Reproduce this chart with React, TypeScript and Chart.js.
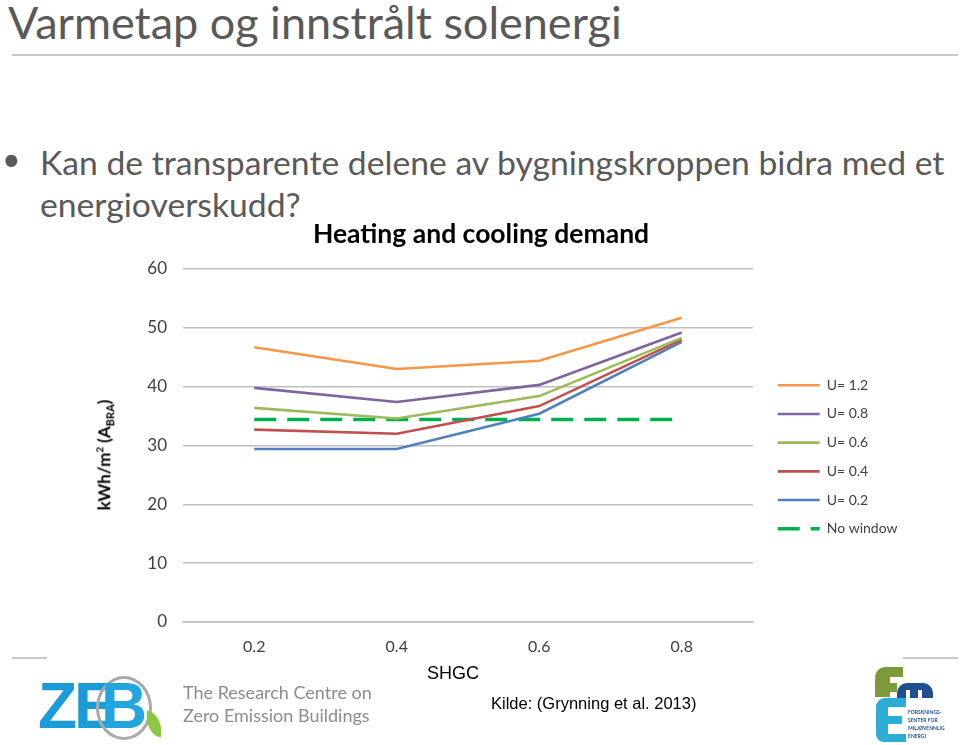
import React, { useEffect, useRef } from "react";
import { Chart, registerables } from "chart.js";

Chart.register(...registerables);

const categories = ["0.2", "0.4", "0.6", "0.8"];
const u12 = [46.7, 43.0, 44.4, 51.7];
const u08 = [39.8, 37.4, 40.3, 49.2];
const u06 = [36.4, 34.6, 38.4, 48.3];
const u04 = [32.7, 32.0, 36.7, 48.0];
const u02 = [29.4, 29.4, 35.4, 47.6];
const noWindow = [34.4, 34.4, 34.4, 34.4];
const seriesLabels = ["U= 1.2", "U= 0.8", "U= 0.6", "U= 0.4", "U= 0.2", "No window"];
const yTicks = [0, 10, 20, 30, 40, 50, 60];

const FONT = "Lato, 'Open Sans', sans-serif";

function HeatChart() {
  const ref = useRef<HTMLCanvasElement | null>(null);
  useEffect(() => {
    if (!ref.current) return;
    Chart.defaults.font.family = FONT;
    const colors = ["#F79646", "#8064A2", "#9BBB59", "#C0504D", "#4F81BD", "#00B050"];
    const values = [u12, u08, u06, u04, u02, noWindow];
    const datasets = values.map((v, i) => ({
      label: seriesLabels[i],
      data: v,
      borderColor: colors[i],
      backgroundColor: colors[i],
      borderWidth: i === 5 ? 3.5 : 2.6,
      borderDash: i === 5 ? [22, 11] : [],
      pointRadius: 0,
      pointHoverRadius: 0,
      pointStyle: "line",
      tension: 0,
      fill: false,
    }));
    const chart = new Chart(ref.current, {
      type: "line",
      data: { labels: categories, datasets },
      options: {
        animation: false,
        responsive: false,
        layout: { padding: 0 },
        scales: {
          x: {
            type: "category",
            offset: true,
            grid: { display: false, drawTicks: false },
            border: { display: true, color: "#bfbfbf", width: 1.5 },
            ticks: { padding: 15, color: "#404040", font: { size: 16 } },
            afterFit: (s: any) => {
              s.height = 92;
            },
          },
          y: {
            min: 0,
            max: 60,
            afterBuildTicks: (s: any) => {
              s.ticks = yTicks.map((v) => ({ value: v }));
            },
            grid: { color: "#bfbfbf", lineWidth: 1.5, drawTicks: false },
            border: { display: false },
            ticks: { padding: 16, color: "#404040", font: { size: 17 } },
            afterFit: (s: any) => {
              s.width = 124;
            },
          },
          yR: {
            position: "right",
            display: true,
            grid: { display: false, drawTicks: false },
            border: { display: false },
            ticks: { display: false },
            afterFit: (s: any) => {
              s.width = 10;
            },
          },
        },
        plugins: {
          title: {
            display: true,
            text: "Heating and cooling demand",
            color: "#000",
            font: { size: 26.5, weight: "bold" },
            padding: { top: 18.1, bottom: 19.1 },
          },
          tooltip: { enabled: false },
          legend: {
            position: "right",
            maxWidth: 140,
            labels: {
              color: "#404040",
              font: { size: 14 },
              usePointStyle: true,
              pointStyleWidth: 42,
              padding: 14.7,
              generateLabels: (c: any) => {
                const items = (Chart.defaults.plugins.legend.labels as any).generateLabels(c);
                return items.map((it: any) => {
                  const ds: any = c.data.datasets[it.datasetIndex];
                  return {
                    ...it,
                    pointStyle: "line",
                    lineWidth: ds.borderWidth,
                    lineDash: ds.borderDash || [],
                    strokeStyle: ds.borderColor,
                    fillStyle: ds.borderColor,
                  };
                });
              },
            },
          },
        },
      } as any,
    });
    return () => chart.destroy();
  }, []);
  return (
    <canvas
      ref={ref}
      width={844}
      height={514}
      style={{ position: "absolute", left: 59, top: 200, width: 844, height: 514 }}
    />
  );
}

export default function App() {
  const abs = (o: React.CSSProperties): React.CSSProperties => ({ position: "absolute", ...o });
  return (
    <div
      style={{
        position: "fixed",
        left: 0,
        top: 0,
        width: 960,
        height: 745,
        background: "#fff",
        overflow: "hidden",
        fontFamily: FONT,
      }}
    >
      {/* slide title */}
      <div style={abs({ left: 8, top: -4, fontSize: 45, color: "#595959", whiteSpace: "nowrap", lineHeight: "52px" })}>
        Varmetap og innstrålt solenergi
      </div>
      <div style={abs({ left: 12, top: 54, width: 946, height: 2, background: "#c8c8c8" })} />
      {/* bullet */}
      <div style={abs({ left: 2, top: 140, fontSize: 32, color: "#595959", lineHeight: "38px" })}>•</div>
      <div style={abs({ left: 40, top: 141, fontSize: 33.7, color: "#595959", lineHeight: "42px", whiteSpace: "nowrap" })}>
        Kan de transparente delene av bygningskroppen bidra med et
        <br />
        energioverskudd?
      </div>
      {/* footer lines */}
      <div style={abs({ left: 12, top: 657, width: 35, height: 2, background: "#c8c8c8" })} />
      <div style={abs({ left: 903, top: 657, width: 55, height: 2, background: "#c8c8c8" })} />

      <HeatChart />

      {/* y axis title */}
      <div
        style={abs({
          left: 105,
          top: 455,
          transform: "translate(-50%, -50%) rotate(-90deg)",
          fontSize: 17,
          fontWeight: "bold",
          color: "#000",
          whiteSpace: "nowrap",
        })}
      >
        kWh/m<sup style={{ fontSize: 10 }}>2</sup> (A<sub style={{ fontSize: 11 }}>BRA</sub>)
      </div>
      {/* x axis title */}
      <div style={abs({ left: 453, top: 673, transform: "translate(-50%, -50%)", fontSize: 18, color: "#000", fontFamily: "'Liberation Sans', Arial, sans-serif" })}>
        SHGC
      </div>
      <div style={abs({ left: 491, top: 694, fontSize: 16.5, color: "#000", whiteSpace: "nowrap", fontFamily: "'Liberation Sans', Arial, sans-serif" })}>
        Kilde: (Grynning et al. 2013)
      </div>

      {/* ZEB logo */}
      <div style={abs({ left: 38, top: 670, fontSize: 64, fontWeight: 900, color: "#1b9bd8", letterSpacing: -3, lineHeight: "72px", fontFamily: "'Liberation Sans', Arial, sans-serif" })}>
        ZE
      </div>
      <div style={abs({ left: 96, top: 676, width: 50, height: 58, borderRadius: "50%", border: "3px solid #a9a9a9" })} />
      <div style={abs({ left: 101, top: 670, fontSize: 64, fontWeight: 900, color: "#23a5df", lineHeight: "72px", fontFamily: "'Liberation Sans', Arial, sans-serif" })}>
        B
      </div>
      <div style={abs({ left: 145, top: 712, width: 18, height: 24, background: "#8dc63f", borderRadius: "0 100% 0 100%", transform: "rotate(10deg)" })} />
      <div style={abs({ left: 183, top: 681, fontSize: 18, color: "#8c8c8c", lineHeight: "23px", whiteSpace: "nowrap" })}>
        The Research Centre on
        <br />
        Zero Emission Buildings
      </div>

      {/* FME logo */}
      <div style={abs({ left: 875, top: 667, width: 28, height: 10, background: "#7d9a3b", borderRadius: "14px 0 0 0" })} />
      <div style={abs({ left: 875, top: 667, width: 15, height: 30, background: "#7d9a3b", borderRadius: "14px 0 0 0" })} />
      <div style={abs({ left: 875, top: 683, width: 22, height: 9, background: "#7d9a3b" })} />
      <div style={abs({ left: 897, top: 683, width: 36, height: 15, background: "#1f4f8f", borderRadius: "10px 10px 0 0" })} />
      <div style={abs({ left: 906, top: 690, width: 4, height: 8, background: "#fff" })} />
      <div style={abs({ left: 918, top: 690, width: 4, height: 8, background: "#fff" })} />
      <div style={abs({ left: 876, top: 698, width: 12, height: 44, background: "#2badd6", borderRadius: "10px 0 0 10px" })} />
      <div style={abs({ left: 876, top: 698, width: 30, height: 9, background: "#2badd6", borderRadius: "10px 0 0 0" })} />
      <div style={abs({ left: 876, top: 716, width: 26, height: 8, background: "#2badd6" })} />
      <div style={abs({ left: 876, top: 734, width: 30, height: 8, background: "#2badd6", borderRadius: "0 0 0 10px" })} />
      <div style={abs({ left: 908, top: 708, fontSize: 5, lineHeight: "8px", color: "#1f4f8f", fontWeight: "bold", whiteSpace: "nowrap" })}>
        FORSKNINGS-
        <br />
        SENTER FOR
        <br />
        MILJØVENNLIG
        <br />
        ENERGI
      </div>
    </div>
  );
}
